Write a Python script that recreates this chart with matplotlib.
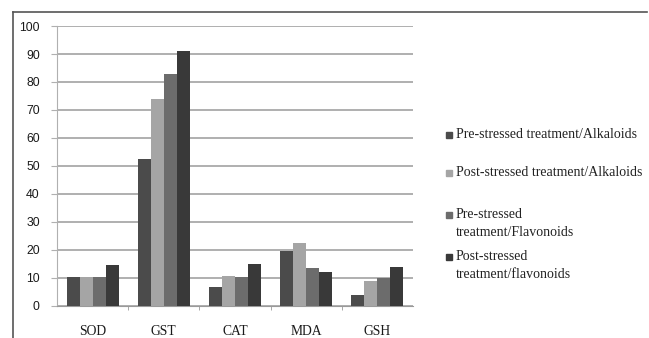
import numpy as np
import matplotlib.pyplot as plt
from matplotlib.lines import Line2D
from matplotlib.patches import Rectangle

# Enzyme / marker categories
categories = ['SOD', 'GST', 'CAT', 'MDA', 'GSH']

# Treatment series
series_names = [
    'Pre-stressed treatment/Alkaloids',
    'Post-stressed treatment/Alkaloids',
    'Pre-stressed\ntreatment/Flavonoids',
    'Post-stressed\ntreatment/flavonoids',
]
pre_alkaloids = [10.5, 52.6, 6.9, 19.5, 3.9]
post_alkaloids = [10.5, 73.8, 10.8, 22.3, 9.0]
pre_flavonoids = [10.5, 82.9, 10.5, 13.7, 10.1]
post_flavonoids = [14.5, 91.2, 14.9, 12.1, 14.0]

colors = ['#4b4b4b', '#a5a5a5', '#6c6c6c', '#393939']

fig = plt.figure(figsize=(6.49, 3.38), dpi=100)
ax = fig.add_axes([0.088, 0.095, 0.548, 0.828])

x = np.arange(len(categories))
width = 0.183
all_series = [pre_alkaloids, post_alkaloids, pre_flavonoids, post_flavonoids]
for i, vals in enumerate(all_series):
    ax.bar(x + (i - 1.5) * width, vals, width=width, color=colors[i],
           edgecolor='none', zorder=3)

ax.set_xlim(-0.5, len(categories) - 0.5)
ax.set_ylim(0, 100)
ax.set_yticks(range(0, 101, 10))
ax.yaxis.grid(True, color='#9a9a9a', linewidth=1.1, zorder=0)
ax.set_axisbelow(True)

for side in ['top', 'right']:
    ax.spines[side].set_visible(False)
ax.spines['left'].set_color('#b0b0b0')
ax.spines['bottom'].set_color('#9a9a9a')

ax.set_xticks(x)
ax.set_xticklabels(categories, family='Liberation Serif', fontsize=9.8,
                   color='#1a1a1a')
ax.set_xticks(np.arange(0.5, len(categories) - 0.5, 1), minor=True)
ax.tick_params(axis='x', which='major', length=0, pad=14)
ax.tick_params(axis='x', which='minor', length=3, color='#9a9a9a')
ax.tick_params(axis='y', length=4, color='#b0b0b0', labelsize=8.8, pad=8.5)
for lab in ax.get_yticklabels():
    lab.set_family('Liberation Sans')
    lab.set_color('#1a1a1a')

# Legend drawn by hand so entries keep even spacing
legend_centers = [135, 173, 215, 257]
line_step = 18
W, H = 649.0, 338.0
for name, col, yc in zip(series_names, colors, legend_centers):
    fig.patches.append(Rectangle((446 / W, 1 - (yc + 3) / H), 6 / W, 6 / H,
                                 transform=fig.transFigure, color=col))
    for k, line in enumerate(name.split('\n')):
        fig.text(456 / W, 1 - (yc + k * line_step) / H, line,
                 family='Liberation Serif', fontsize=10.0,
                 va='center', ha='left', color='#222222')

# Frame lines around the chart area
fig.add_artist(Line2D([13 / W, 13 / W], [0, 1 - 12 / H], color='#555555', linewidth=1.2))
fig.add_artist(Line2D([13 / W, 647 / W], [1 - 12 / H, 1 - 12 / H], color='#555555', linewidth=1.2))

fig.savefig('out.png', dpi=100)
